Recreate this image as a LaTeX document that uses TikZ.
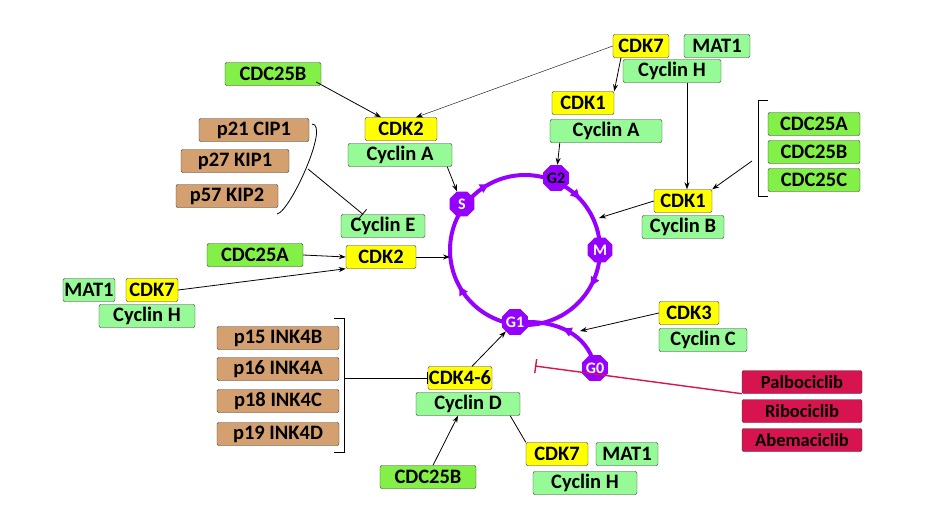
\documentclass[tikz,border=0pt]{standalone}
\usepackage{fontspec}
\setmainfont{Carlito}
\usetikzlibrary{shapes.geometric,decorations.markings,arrows.meta}
\definecolor{lg}{RGB}{150,250,150}
\definecolor{bg}{RGB}{130,240,70}
\definecolor{yl}{RGB}{255,255,0}
\definecolor{br}{RGB}{212,160,112}
\definecolor{dr}{RGB}{215,20,80}
\definecolor{pu}{RGB}{150,0,255}
\begin{document}
\begin{tikzpicture}[x=1pt,y=-1pt,
 bx/.style={draw=black!80,rounded corners=2pt,minimum height=23pt,inner sep=0.5pt,font=\fontsize{20.5}{22}\selectfont\bfseries},
 G/.style={bx,fill=lg},C/.style={bx,fill=bg},Y/.style={bx,fill=yl},B/.style={bx,fill=br},
 D/.style={bx,fill=dr,font=\fontsize{18.5}{20}\selectfont\bfseries},
 ph/.style={regular polygon,regular polygon sides=8,fill=pu,text=white,inner sep=0pt,minimum size=27pt,font=\fontsize{16}{17}\selectfont\bfseries},
 ar/.style={-{Stealth[length=7pt,width=5pt]},thick},
 tb/.style={-{Bar[width=12pt]},thick}]
\useasboundingbox (0,0) rectangle (940,509);
% cycle
\draw[pu,line width=4pt,postaction={decorate},decoration={markings,
 mark=at position 0.17 with {\arrow{Triangle[length=9pt,width=9pt]}},
 mark=at position 0.38 with {\arrow{Triangle[length=9pt,width=9pt]}},
 mark=at position 0.58 with {\arrow{Triangle[length=9pt,width=9pt]}},
 mark=at position 0.92 with {\arrow{Triangle[length=9pt,width=9pt]}}}]
 (450,250) arc[start angle=180,end angle=540,radius=75];
\draw[pu,line width=4pt,postaction={decorate},decoration={markings,
 mark=at position 0.6 with {\arrow{Triangle[length=9pt,width=9pt]}}}]
 (595,368) .. controls (590,340) and (565,322) .. (528,322);
\node[ph] (S) at (462,204) {S};
\node[ph,text=black] (G2) at (556,178) {G2};
\node[ph] (M) at (600,250) {M};
\node[ph] (G1) at (515,322) {G1};
\node[ph] (G0) at (595,368) {G0};
\coordinate (cl) at (450,257);
\coordinate (cm) at (599,218);
\coordinate (cbr) at (580,331);
% boxes
\node[C,minimum width=96pt] (b1) at (273,74) {CDC25B};
\node[Y,minimum width=72pt] (k2a) at (401,129) {CDK2};
\node[G,minimum width=104pt] (ca) at (400,155) {Cyclin A};
\node[B,minimum width=110pt] (p21) at (254,130) {p21 CIP1};
\node[B,minimum width=108pt] (p27) at (235,161) {p27 KIP1};
\node[B,minimum width=102pt] (p57) at (227,196) {p57 KIP2};
\node[G,minimum width=84pt] (ce) at (383,226) {Cyclin E};
\node[Y,minimum width=70pt] (k2e) at (381,257) {CDK2};
\node[C,minimum width=96pt] (c25a) at (255,255) {CDC25A};
\node[G,minimum width=52pt] (m1) at (89,290) {MAT1};
\node[Y,minimum width=52pt] (k7a) at (152,290) {CDK7};
\node[G,minimum width=96pt] (cha) at (147,316) {Cyclin H};
\node[Y,minimum width=56pt] (k7b) at (641,46) {CDK7};
\node[G,minimum width=66pt] (m2) at (717,46) {MAT1};
\node[G,minimum width=98pt] (chb) at (672,71) {Cyclin H};
\node[Y,minimum width=62pt] (k1a) at (583,103) {CDK1};
\node[G,minimum width=112pt] (ca2) at (606,131) {Cyclin A};
\node[Y,minimum width=58pt] (k1b) at (683,201) {CDK1};
\node[G,minimum width=82pt] (cb) at (683,227) {Cyclin B};
\node[C,minimum width=92pt] (c1) at (814,124) {CDC25A};
\node[C,minimum width=92pt] (c2) at (814,152) {CDC25B};
\node[C,minimum width=92pt] (c3) at (814,180) {CDC25C};
\node[Y,minimum width=60pt] (k3) at (689,313) {CDK3};
\node[G,minimum width=88pt] (cc) at (703,340) {Cyclin C};
\node[B,minimum width=122pt] (p15) at (278,338) {p15 INK4B};
\node[B,minimum width=122pt] (p16) at (278,369) {p16 INK4A};
\node[B,minimum width=122pt] (p18) at (278,401) {p18 INK4C};
\node[B,minimum width=122pt] (p19) at (278,434) {p19 INK4D};
\node[Y,minimum width=64pt] (k46) at (460,378) {CDK4-6};
\node[G,minimum width=104pt] (cd) at (468,404) {Cyclin D};
\node[C,minimum width=96pt] (b2) at (428,477) {CDC25B};
\node[Y,minimum width=62pt] (k7c) at (557,454) {CDK7};
\node[G,minimum width=62pt] (m3) at (627,454) {MAT1};
\node[G,minimum width=104pt] (chc) at (585,483) {Cyclin H};
\node[D,minimum width=120pt] (d1) at (802,382) {Palbociclib};
\node[D,minimum width=120pt] (d2) at (802,411) {Ribociclib};
\node[D,minimum width=120pt] (d3) at (802,440) {Abemaciclib};
% brackets
\draw[thick] (312,124) .. controls (330,124) and (290,212) .. (277,214);
\draw[thick] (768,100) -- (758,100) -- (758,196) -- (768,196);
\draw[thick] (334,318) -- (344,318) -- (344,452) -- (334,452);
\coordinate (br1) at (308,169);
\coordinate (br2) at (752,161);
\coordinate (br3) at (344,378);
\coordinate (rt) at (535,366);
% connectors
\draw[ar] (b1.east) ++(-5,8) -- ([xshift=-20pt]k2a.north);
\draw[ar,thin] (k7b.west) -- ([xshift=15pt]k2a.north);
\draw[ar] ([xshift=-20pt]k7b.south) -- (k1a.north east);
\draw[ar] ([xshift=15pt]chb.south) -- ([xshift=4pt]k1b.north);
\draw[ar] (ca2.south west) ++(10,0) -- (G2);
\draw[ar] (br2) -- (k1b.north east);
\draw[ar] (k1b.west) -- (cm);
\draw[ar] ([xshift=-5pt]ca.south east) -- (S);
\draw[ar] (k2e.east) -- (cl);
\draw[ar] (c25a.east) -- (k2e.west);
\draw[ar] (k7a.east) -- (k2e.south west);
\draw[tb] (br1) -- ([xshift=-20pt]ce.north);
\draw[ar] (k3.west) -- (cbr);
\draw[ar] (k46.north) ++(12,0) -- (G1);
\draw[tb] (br3) -- (k46.west);
\draw[ar] (b2.north) ++(5,0) -- ([xshift=-10pt]cd.south);
\draw[thick] (k7c.north west) -- ([xshift=-10pt]cd.south east);
\draw[dr,line width=1.4pt,-{Bar[width=14pt]}] (d1.south west) -- (rt);
\end{tikzpicture}
\end{document}
